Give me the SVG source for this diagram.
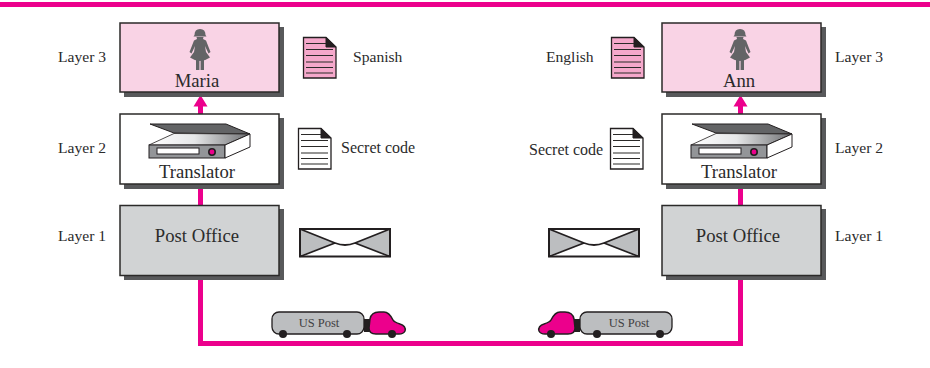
<svg xmlns="http://www.w3.org/2000/svg" width="930" height="368" viewBox="0 0 930 368">
<style>
text{font-family:"Liberation Serif","Times New Roman",serif;fill:#2b2b2b}
.lab{font-size:15.6px}.code{font-size:16px}.name{font-size:18.7px;text-anchor:middle}.tr{font-size:12.5px;text-anchor:middle;fill:#414042}
.shadow{fill:#58595b}.box{stroke:#2b2a29;stroke-width:1.500}
.conn{stroke:#ec008c;stroke-width:5;fill:none}
.ln{stroke:#2b2a29;stroke-width:1.200}
.whl{fill:#231f20}
</style>
<defs>
<linearGradient id="glass" x1="0" x2="1" y1="0" y2="0"><stop offset="0" stop-color="#fff"/><stop offset="0.450" stop-color="#e6e7e8"/><stop offset="1" stop-color="#6d6e71"/></linearGradient>
<g id="woman" fill="#636466">
<path d="M-5.500 6Q-5.500 0 0 0Q5.500 0 5.500 6L6.500 7.500H-6.500Z"/>
<path d="M-3.500 8H3.500L3 10L6 11.500L10.500 23L8.500 24.500L5 17L6 23L10 28.500Q5 32 0 32Q-5 32 -10 28.500L-6 23L-5 17L-8.500 24.500L-10.500 23L-6 11.500L-3 10Z"/>
<rect x="-4" y="31" width="3.400" height="10"/><rect x="0.600" y="31" width="3.400" height="10"/>
</g>
<g id="scanner">
<path d="M0 0H76L100 10L24 9Z" fill="#636466" stroke="#231f20"/>
<path d="M24 9.500L100 10L75 21H-1Z" fill="url(#glass)" stroke="#231f20" stroke-width="0.800"/>
<rect x="-1" y="21" width="76" height="13" fill="#939598" stroke="#231f20"/>
<rect x="7" y="24" width="42" height="6" fill="#fff" stroke="#231f20"/>
<circle cx="62" cy="28" r="3.200" fill="#ec008c" stroke="#231f20" stroke-width="1.600"/>
<path d="M75 21L100 10V23L75 34Z" fill="#fff" stroke="#231f20"/>
</g>
<g id="doc">
<path d="M0.500 0.500H23L33 10V41H0.500Z" stroke="#231f20" stroke-width="1.300"/>
<path d="M23 0.500L33 10H23Z" fill="#231f20" stroke="#231f20"/>
<g class="ln"><path d="M3 6.500H23M3 12.500H30M3 18.500H30M3 25H30M3 30.500H30M3 36H30"/></g>
</g>
<g id="env">
<rect x="1" y="1" width="90" height="27" fill="#fff"/>
<path d="M1 1L36 15L1 27.500Z M91 1L56 15L91 27.500Z" fill="#bcbec0"/>
<rect x="1" y="1" width="90" height="27.500" fill="none" stroke="#231f20" stroke-width="2"/>
<path d="M1 1L36 15Q46 19 56 15L91 1M1 28.500L36 15M91 28.500L56 15" fill="none" stroke="#231f20" stroke-width="1.800"/>
</g>
</defs>

<rect x="0" y="2" width="930" height="5" fill="#ec008c"/>

<g id="connectors">
<path class="conn" d="M200.500 276V343.500H740.500V276"/>
<path class="conn" d="M200.500 188V206M740.500 188V206"/>
<path class="conn" d="M200.500 104V114M740.500 104V114"/>
<path d="M193.500 106.500L200.500 95L207.500 106.500Z M733.500 106.500L740.500 95L747.500 106.500Z" fill="#ec008c"/>
</g>

<g id="maria">
<rect class="shadow" x="124" y="27" width="160" height="70"/>
<rect class="box" x="120" y="23" width="159" height="69" fill="#f9d3e5"/>
<use href="#woman" x="200" y="29"/>
<text class="name" x="197" y="87">Maria</text>
</g>
<g id="translator-left">
<rect class="shadow" x="124" y="118" width="160" height="71"/>
<rect class="box" x="120" y="114" width="159" height="70" fill="#fff"/>
<use href="#scanner" x="150" y="124"/>
<text class="name" x="197" y="178">Translator</text>
</g>
<g id="post-left">
<rect class="shadow" x="124" y="209" width="160" height="71"/>
<rect class="box" x="120" y="205.500" width="159" height="70" fill="#d1d3d4"/>
<text class="name" x="197" y="242">Post Office</text>
</g>
<g id="ann">
<rect class="shadow" x="666" y="27" width="160" height="70"/>
<rect class="box" x="662" y="23" width="159" height="69" fill="#f9d3e5"/>
<use href="#woman" x="740" y="29"/>
<text class="name" x="739" y="87">Ann</text>
</g>
<g id="translator-right">
<rect class="shadow" x="666" y="118" width="160" height="71"/>
<rect class="box" x="662" y="114" width="159" height="70" fill="#fff"/>
<use href="#scanner" x="692" y="124"/>
<text class="name" x="739" y="178">Translator</text>
</g>
<g id="post-right">
<rect class="shadow" x="666" y="209" width="160" height="71"/>
<rect class="box" x="662" y="205.500" width="159" height="70" fill="#d1d3d4"/>
<text class="name" x="738" y="242">Post Office</text>
</g>

<g id="labels-left">
<text class="lab" x="58" y="62">Layer 3</text>
<text class="lab" x="58" y="153">Layer 2</text>
<text class="lab" x="58" y="241">Layer 1</text>
</g>
<g id="labels-right">
<text class="lab" x="835" y="62">Layer 3</text>
<text class="lab" x="835" y="153">Layer 2</text>
<text class="lab" x="835" y="241">Layer 1</text>
</g>

<g id="doc-spanish"><use href="#doc" x="303" y="37" fill="#f5a8cb"/><text class="lab" x="353" y="62">Spanish</text></g>
<g id="doc-code-left"><use href="#doc" x="298" y="128" fill="#fff"/><text class="code" x="341" y="153">Secret code</text></g>
<g id="envelope-left"><use href="#env" x="299" y="228"/></g>
<g id="doc-english"><use href="#doc" x="611" y="37" fill="#f5a8cb"/><text class="lab" x="546" y="62">English</text></g>
<g id="doc-code-right"><use href="#doc" x="610" y="128" fill="#fff"/><text class="code" x="529" y="155">Secret code</text></g>
<g id="envelope-right"><use href="#env" x="548" y="228"/></g>

<g id="truck-left">
<rect x="364" y="319" width="7" height="13" fill="#231f20"/>
<rect x="272" y="312" width="92" height="22" rx="7" fill="#bcbec0" stroke="#231f20" stroke-width="1.300"/>
<path d="M370 319C371 314 374 312 379 312H384C388 312 391 316 393 320C394 322 397 323 400 324C404 325 406 328 405 331C404 333 402 334 399 334H376C371 334 369 332 369 328Z" fill="#ec008c" stroke="#231f20" stroke-width="1.500"/>
<circle class="whl" cx="283" cy="334" r="4"/><circle class="whl" cx="347" cy="334" r="4"/><circle class="whl" cx="392" cy="334" r="4"/>
<text class="tr" x="319" y="327">US Post</text>
</g>
<g id="truck-right">
<rect x="573" y="319" width="7" height="13" fill="#231f20"/>
<rect x="580" y="312" width="92" height="22" rx="7" fill="#bcbec0" stroke="#231f20" stroke-width="1.300"/>
<path d="M574 319C573 314 570 312 565 312H560C556 312 553 316 551 320C550 322 547 323 544 324C540 325 538 328 539 331C540 333 542 334 545 334H568C573 334 575 332 575 328Z" fill="#ec008c" stroke="#231f20" stroke-width="1.500"/>
<circle class="whl" cx="597" cy="334" r="4"/><circle class="whl" cx="660" cy="334" r="4"/><circle class="whl" cx="551" cy="334" r="4"/>
<text class="tr" x="629" y="327">US Post</text>
</g>
</svg>
